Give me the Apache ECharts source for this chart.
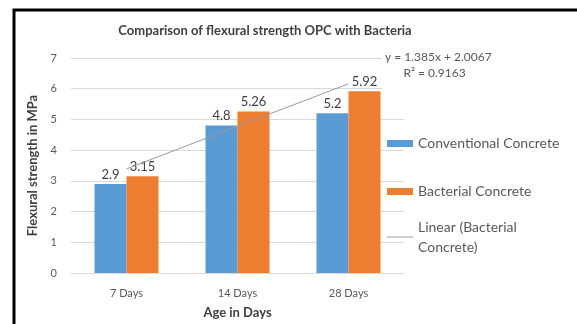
<!DOCTYPE html>
<html lang="en">
<head>
    <meta charset="UTF-8">
    <title>Flexural strength</title>
    <script src="https://cdn.jsdelivr.net/npm/echarts/dist/echarts.min.js"></script>
    <style>
        body { margin: 0; padding: 0; background: #fff; }
        #chart { width: 577px; height: 324px; }
    </style>
</head>
<body>
    <div id="chart"></div>
    <script>
        // values
        const ages = ['7 Days', '14 Days', '28 Days'];
        const conventional = [2.9, 4.8, 5.2];
        const bacterial = [3.15, 5.26, 5.92];
        const trendLine = [3.39, 4.78, 6.16];   // Excel linear trend of bacterial series
        const yTicks = [0, 1, 2, 3, 4, 5, 6, 7];

        const font = 'Lato, "Open Sans", sans-serif';
        const chart = echarts.init(document.getElementById('chart'));

        chart.setOption({
            animation: false,
            textStyle: { fontFamily: font },
            title: {
                text: 'Comparison of flexural strength OPC with Bacteria',
                left: 260, top: 19, textAlign: 'center',
                textStyle: { fontSize: 13, fontWeight: 'bold', color: '#404040', fontFamily: font }
            },
            grid: { left: 71, right: 173, top: 58, bottom: 47 },
            legend: [
                {
                    orient: 'vertical',
                    left: 387, top: 135, padding: 0,
                    itemWidth: 26, itemHeight: 7, itemGap: 31,
                    textStyle: { fontSize: 14, color: '#595959', lineHeight: 17 },
                    data: [
                        { name: 'Conventional Concrete', icon: 'rect' },
                        { name: 'Bacterial Concrete', icon: 'rect' }
                    ]
                },
                {
                    orient: 'vertical',
                    left: 387, top: 207, padding: 0,
                    itemWidth: 26, itemHeight: 7,
                    textStyle: { fontSize: 14, color: '#595959', lineHeight: 20, padding: [20, 0, 0, 0] },
                    formatter: function () { return 'Linear (Bacterial\nConcrete)'; },
                    data: [
                        { name: 'Linear (Bacterial Concrete)', icon: 'path://M0,0H26V1H0Z', itemStyle: { color: '#9a9a9a' } }
                    ]
                }
            ],
            xAxis: {
                type: 'category',
                data: ages,
                name: 'Age in Days',
                nameLocation: 'middle',
                nameGap: 33,
                nameTextStyle: { fontSize: 13, fontWeight: 'bold', color: '#404040' },
                axisLine: { lineStyle: { color: '#d9d9d9' } },
                axisTick: { show: false },
                axisLabel: { fontSize: 11, color: '#595959', margin: 15 }
            },
            yAxis: {
                type: 'value',
                min: yTicks[0], max: yTicks[yTicks.length - 1], interval: 1,
                name: 'Flexural strength in MPa',
                nameLocation: 'middle',
                nameGap: 27,
                nameTextStyle: { fontSize: 13, fontWeight: 'bold', color: '#404040' },
                axisLine: { show: false },
                axisTick: { show: false },
                axisLabel: { fontSize: 11, color: '#595959', margin: 14 },
                splitLine: { lineStyle: { color: '#d9d9d9' } }
            },
            series: [
                {
                    name: 'Conventional Concrete',
                    type: 'bar',
                    data: conventional,
                    barWidth: 32,
                    barGap: '0%',
                    itemStyle: { color: '#5B9BD5' },
                    label: { show: true, position: 'top', fontSize: 13, color: '#404040', distance: 3 }
                },
                {
                    name: 'Bacterial Concrete',
                    type: 'bar',
                    data: bacterial,
                    barWidth: 32,
                    barGap: '0%',
                    itemStyle: { color: '#ED7D31' },
                    label: { show: true, position: 'top', fontSize: 13, color: '#404040', distance: 3 }
                },
                {
                    name: 'Linear (Bacterial Concrete)',
                    type: 'line',
                    data: trendLine,
                    symbol: 'none',
                    lineStyle: { color: '#9a9a9a', width: 1 },
                    itemStyle: { color: '#9a9a9a' },
                    z: 5
                }
            ],
            graphic: [
                {
                    type: 'rect',
                    shape: { x: 14, y: 10, width: 700, height: 500 },
                    style: { fill: 'none', stroke: '#000', lineWidth: 3 },
                    silent: true
                },
                {
                    type: 'text', left: 382, top: 49, z: 10,
                    style: {
                        text: 'y = 1.385x + 2.0067\n      R² = 0.9163',
                        fontSize: 12, lineHeight: 16, fill: '#595959', fontFamily: font,
                        backgroundColor: '#fff', padding: [0, 3, 14, 3]
                    }
                }
            ]
        });
    </script>
</body>
</html>
